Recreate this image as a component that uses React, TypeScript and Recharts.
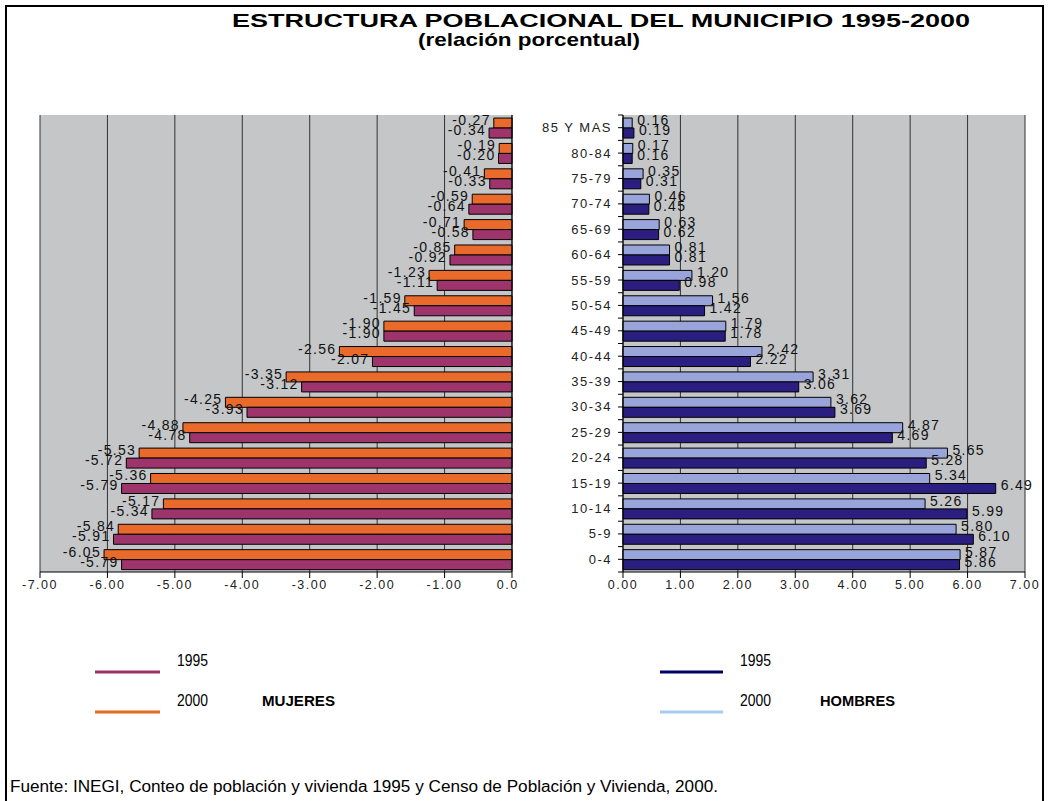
import { BarChart, Bar, XAxis, YAxis, CartesianGrid, LabelList, ReferenceLine } from "recharts"

const ageGroups = [
  "85 Y MAS", "80-84", "75-79", "70-74", "65-69", "60-64", "55-59", "50-54", "45-49",
  "40-44", "35-39", "30-34", "25-29", "20-24", "15-19", "10-14", "5-9", "0-4",
]

const mujeres2000 = [-0.27, -0.19, -0.41, -0.59, -0.71, -0.85, -1.23, -1.59, -1.9, -2.56, -3.35, -4.25, -4.88, -5.53, -5.36, -5.17, -5.84, -6.05]
const mujeres1995 = [-0.34, -0.2, -0.33, -0.64, -0.58, -0.92, -1.11, -1.45, -1.9, -2.07, -3.12, -3.93, -4.78, -5.72, -5.79, -5.34, -5.91, -5.79]
const hombres2000 = [0.16, 0.17, 0.35, 0.46, 0.63, 0.81, 1.2, 1.56, 1.79, 2.42, 3.31, 3.62, 4.87, 5.65, 5.34, 5.26, 5.8, 5.87]
const hombres1995 = [0.19, 0.16, 0.31, 0.45, 0.62, 0.81, 0.98, 1.42, 1.78, 2.22, 3.06, 3.69, 4.69, 5.28, 6.49, 5.99, 6.1, 5.86]

const mujeresTicks = [-7, -6, -5, -4, -3, -2, -1, 0]
const hombresTicks = [0, 1, 2, 3, 4, 5, 6, 7]

const FONT = '"Liberation Sans", Arial, sans-serif'

const mujeresData = ageGroups.map((age, i) => ({ age, y2000: mujeres2000[i], y1995: mujeres1995[i] }))
const hombresData = ageGroups.map((age, i) => ({ age, y2000: hombres2000[i], y1995: hombres1995[i] }))

const tickStyle = { fontSize: 12.5, fill: "#222", letterSpacing: 1.5, fontFamily: FONT }

const LeftLabel = (props: any) => {
  const { x, y, width, height, value } = props
  const left = Math.min(Number(x), Number(x) + Number(width))
  return (
    <text x={left - 3} y={Number(y) + Number(height) / 2 - 3} textAnchor="end" dominantBaseline="central"
      fontSize={14} letterSpacing={1.3} fill="#111" fontFamily={FONT}>
      {Number(value).toFixed(2)}
    </text>
  )
}

const RightLabel = (props: any) => {
  const { x, y, width, height, value } = props
  const right = Math.max(Number(x), Number(x) + Number(width))
  return (
    <text x={right + 5} y={Number(y) + Number(height) / 2 - 3} textAnchor="start" dominantBaseline="central"
      fontSize={14} letterSpacing={1.3} fill="#111" fontFamily={FONT}>
      {Number(value).toFixed(2)}
    </text>
  )
}

// category ticks: one at each label and one at every group boundary, like the original
const AgeTick = (props: any) => {
  const { x, y, payload, index } = props
  const half = 457 / ageGroups.length / 2
  return (
    <g>
      <line x1={x - 5} x2={x} y1={y} y2={y} stroke="#000" />
      <line x1={x - 5} x2={x} y1={y - half} y2={y - half} stroke="#000" />
      {index === ageGroups.length - 1 && <line x1={x - 5} x2={x} y1={y + half} y2={y + half} stroke="#000" />}
      <text x={x - 11} y={y} textAnchor="end" dominantBaseline="central" fontSize={13} letterSpacing={1.5}
        fill="#222" fontFamily={FONT}>
        {payload.value}
      </text>
    </g>
  )
}

export default function App() {
  return (
    <div style={{ position: "absolute", left: 0, top: 0, width: 1048, height: 801, background: "#fff", overflow: "hidden", fontFamily: FONT }}>
      <div style={{ position: "absolute", left: 0, top: 0, width: 519, height: 620, overflow: "hidden" }}>
        <BarChart width={540} height={620} data={mujeresData} layout="vertical"
          margin={{ top: 115, right: 28, bottom: 18, left: 40 }} barCategoryGap="12%" barGap={0}>
          <CartesianGrid horizontal={false} fill="#C4C6C8" stroke="#333" strokeOpacity={1} />
          <XAxis type="number" domain={[-7, 0]} ticks={mujeresTicks} tickFormatter={(v) => Number(v).toFixed(2)}
            stroke="#000" tick={tickStyle} height={30} />
          <YAxis type="category" dataKey="age" hide />
          <Bar dataKey="y2000" fill="#E96A2B" stroke="#000" strokeWidth={1} isAnimationActive={false}>
            <LabelList dataKey="y2000" content={LeftLabel} />
          </Bar>
          <Bar dataKey="y1995" fill="#9E346C" stroke="#000" strokeWidth={1} isAnimationActive={false}>
            <LabelList dataKey="y1995" content={LeftLabel} />
          </Bar>
          <ReferenceLine x={0} stroke="#000" />
        </BarChart>
      </div>

      <div style={{ position: "absolute", left: 540, top: 0 }}>
        <BarChart width={508} height={620} data={hombresData} layout="vertical"
          margin={{ top: 115, right: 23, bottom: 18, left: 0 }} barCategoryGap="12%" barGap={0}>
          <CartesianGrid horizontal={false} fill="#C4C6C8" stroke="#333" strokeOpacity={1} />
          <XAxis type="number" domain={[0, 7]} ticks={hombresTicks} tickFormatter={(v) => Number(v).toFixed(2)}
            stroke="#000" tick={tickStyle} height={30} />
          <YAxis type="category" dataKey="age" width={83} stroke="#000" tickLine={false} tickSize={0}
            tickMargin={0} tick={AgeTick} interval={0} />
          <Bar dataKey="y2000" fill="#99A4DA" stroke="#000" strokeWidth={1} isAnimationActive={false}>
            <LabelList dataKey="y2000" content={RightLabel} />
          </Bar>
          <Bar dataKey="y1995" fill="#2A1F80" stroke="#000" strokeWidth={1} isAnimationActive={false}>
            <LabelList dataKey="y1995" content={RightLabel} />
          </Bar>
        </BarChart>
      </div>

      <svg width={1048} height={801} style={{ position: "absolute", left: 0, top: 0, pointerEvents: "none" }}>
        <rect x={6} y={6} width={1037} height={900} fill="none" stroke="#000" strokeWidth={2} />
        <text x={232} y={27} fontSize={19} fontWeight="bold" textLength={738} lengthAdjust="spacingAndGlyphs" fontFamily={FONT}>
          ESTRUCTURA POBLACIONAL DEL MUNICIPIO 1995-2000
        </text>
        <text x={418} y={46} fontSize={19} fontWeight="bold" textLength={222} lengthAdjust="spacingAndGlyphs" fontFamily={FONT}>
          (relación porcentual)
        </text>

        <line x1={95} x2={160} y1={672} y2={672} stroke="#993366" strokeWidth={3} />
        <text x={177} y={666} fontSize={16} textLength={31} lengthAdjust="spacingAndGlyphs" fontFamily={FONT}>1995</text>
        <line x1={95} x2={160} y1={712} y2={712} stroke="#E36C1C" strokeWidth={3} />
        <text x={177} y={706} fontSize={16} textLength={31} lengthAdjust="spacingAndGlyphs" fontFamily={FONT}>2000</text>
        <text x={262} y={706} fontSize={15} fontWeight="bold" textLength={73} lengthAdjust="spacingAndGlyphs" fontFamily={FONT}>MUJERES</text>

        <line x1={660} x2={723} y1={672} y2={672} stroke="#000066" strokeWidth={3} />
        <text x={740} y={666} fontSize={16} textLength={31} lengthAdjust="spacingAndGlyphs" fontFamily={FONT}>1995</text>
        <line x1={660} x2={723} y1={712} y2={712} stroke="#A6CAF0" strokeWidth={3} />
        <text x={740} y={706} fontSize={16} textLength={31} lengthAdjust="spacingAndGlyphs" fontFamily={FONT}>2000</text>
        <text x={820} y={706} fontSize={15} fontWeight="bold" textLength={75} lengthAdjust="spacingAndGlyphs" fontFamily={FONT}>HOMBRES</text>

        <text x={10} y={792} fontSize={16} textLength={708} lengthAdjust="spacingAndGlyphs" fontFamily={FONT}>
          Fuente: INEGI, Conteo de población y vivienda 1995 y Censo de Población y Vivienda, 2000.
        </text>
      </svg>
    </div>
  )
}
